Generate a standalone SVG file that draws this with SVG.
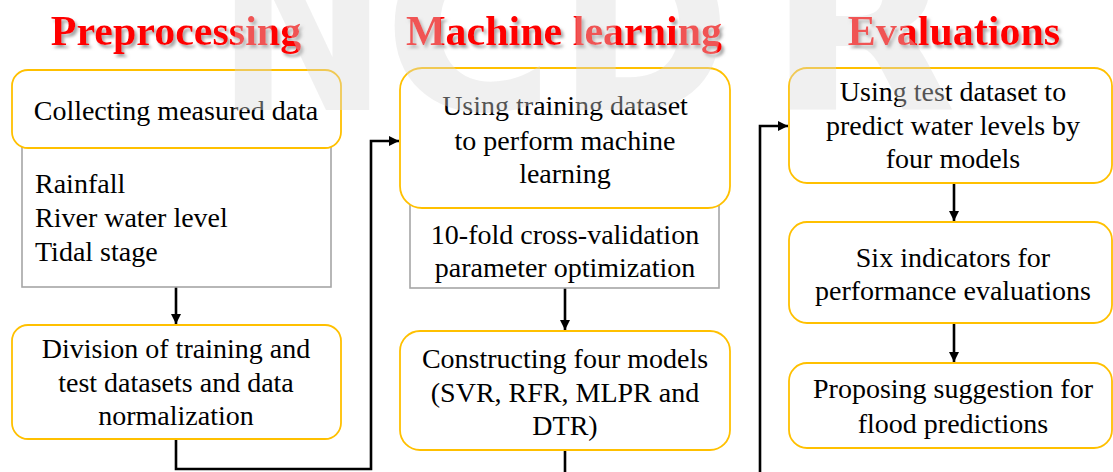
<svg xmlns="http://www.w3.org/2000/svg" width="1113" height="472" viewBox="0 0 1113 472">
  <style>
    .title { font-family: "Liberation Serif", "DejaVu Serif", serif; font-weight: bold; font-size: 42px; fill: #ff0000; text-anchor: middle; filter: url(#shadow); }
    .label { font-family: "Liberation Serif", "DejaVu Serif", serif; font-weight: normal; font-size: 28px; fill: #000000; text-anchor: middle; }
    .list { font-family: "Liberation Serif", "DejaVu Serif", serif; font-weight: normal; font-size: 28px; fill: #000000; }
    .step { fill: #ffffff; stroke: #ffc000; stroke-width: 1.8; }
    .detail { fill: #ffffff; stroke: #a6a6a6; stroke-width: 1.6; }
    .flow { fill: none; stroke: #000000; stroke-width: 2.6; }
    .mark { font-family: "DejaVu Sans", sans-serif; font-weight: bold; font-size: 230px; fill: #d9d9d9; opacity: 0.39; }
  </style>
  <defs>
    <filter id="shadow" x="-10%" y="-20%" width="130%" height="160%">
      <feDropShadow dx="2.5" dy="3" stdDeviation="1.6" flood-color="#7f7f7f" flood-opacity="0.7"/>
    </filter>
    <marker id="arrow" markerUnits="userSpaceOnUse" markerWidth="11" markerHeight="11" refX="10" refY="5" orient="auto">
      <path d="M0,0 L10,5 L0,10 z" fill="#000000"/>
    </marker>
  </defs>

  <rect x="0" y="0" width="1113" height="472" fill="#ffffff"/>

  <!-- column headings -->
  <g id="headings">
    <text class="title" x="176" y="45">Preprocessing</text>
    <text class="title" x="564" y="45">Machine learning</text>
    <text class="title" x="954" y="45">Evaluations</text>
  </g>

  <!-- connectors -->
  <g id="connectors">
    <path class="flow" d="M176,287 V324" marker-end="url(#arrow)"/>
    <path class="flow" d="M176,439 V469 H371 V141 H399" marker-end="url(#arrow)"/>
    <path class="flow" d="M565,288 V330" marker-end="url(#arrow)"/>
    <path class="flow" d="M565,450 V490 H760 V126 H788" marker-end="url(#arrow)"/>
    <path class="flow" d="M954,183 V221" marker-end="url(#arrow)"/>
    <path class="flow" d="M954,323 V362" marker-end="url(#arrow)"/>
  </g>

  <!-- preprocessing column -->
  <g id="sources">
    <rect class="detail" x="22" y="140" width="309" height="147"/>
    <text class="list" x="35" y="193">Rainfall</text>
    <text class="list" x="35" y="227">River water level</text>
    <text class="list" x="35" y="261">Tidal stage</text>
  </g>
  <g id="collect">
    <rect class="step" x="12" y="70" width="329" height="78" rx="16"/>
    <text class="label" x="176" y="120">Collecting measured data</text>
  </g>
  <g id="divide">
    <rect class="step" x="12" y="325" width="329" height="114" rx="16"/>
    <text class="label" x="176" y="358">Division of training and</text>
    <text class="label" x="176" y="392">test datasets and data</text>
    <text class="label" x="176" y="425">normalization</text>
  </g>

  <!-- machine learning column -->
  <g id="tuning">
    <rect class="detail" x="410" y="200" width="309" height="88"/>
    <text class="label" x="565" y="244">10-fold cross-validation</text>
    <text class="label" x="565" y="277">parameter optimization</text>
  </g>
  <g id="train">
    <rect class="step" x="400" y="68" width="330" height="140" rx="22"/>
    <text class="label" x="565" y="115">Using training dataset</text>
    <text class="label" x="565" y="150">to perform machine</text>
    <text class="label" x="565" y="183">learning</text>
  </g>
  <g id="models">
    <rect class="step" x="400" y="331" width="330" height="119" rx="20"/>
    <text class="label" x="565" y="368">Constructing four models</text>
    <text class="label" x="565" y="402">(SVR, RFR, MLPR and</text>
    <text class="label" x="565" y="435">DTR)</text>
  </g>

  <!-- evaluation column -->
  <g id="predict">
    <rect class="step" x="789" y="68" width="323" height="115" rx="18"/>
    <text class="label" x="953" y="101">Using test dataset to</text>
    <text class="label" x="953" y="135">predict water levels by</text>
    <text class="label" x="953" y="168">four models</text>
  </g>
  <g id="indicators">
    <rect class="step" x="789" y="222" width="323" height="101" rx="18"/>
    <text class="label" x="953" y="267">Six indicators for</text>
    <text class="label" x="953" y="300">performance evaluations</text>
  </g>
  <g id="suggest">
    <rect class="step" x="789" y="363" width="323" height="85" rx="18"/>
    <text class="label" x="953" y="398">Proposing suggestion for</text>
    <text class="label" x="953" y="433">flood predictions</text>
  </g>

  <!-- faint watermark lettering laid over the chart -->
  <g id="watermark">
    <text class="mark" x="216" y="110" textLength="172" lengthAdjust="spacingAndGlyphs">N</text>
    <text class="mark" x="383" y="110" textLength="172" lengthAdjust="spacingAndGlyphs">C</text>
    <text class="mark" x="557" y="110" textLength="174" lengthAdjust="spacingAndGlyphs">D</text>
    <text class="mark" x="767" y="110" textLength="190" lengthAdjust="spacingAndGlyphs">R</text>
  </g>
</svg>
